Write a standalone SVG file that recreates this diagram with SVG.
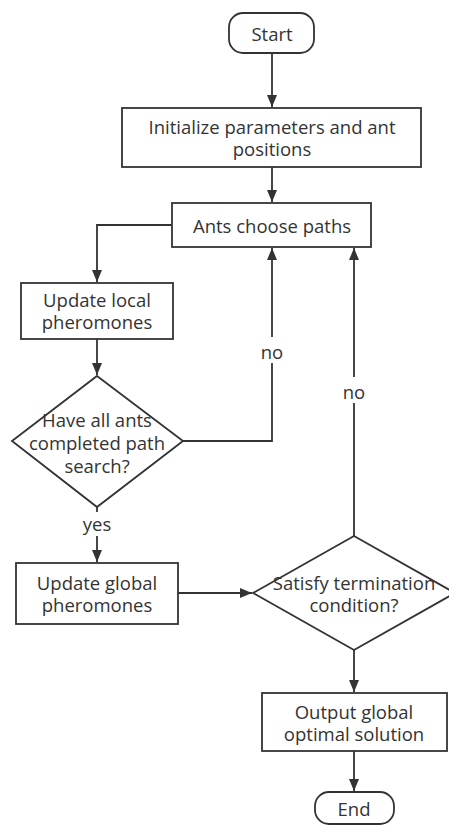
<svg xmlns="http://www.w3.org/2000/svg" width="449" height="825" viewBox="0 0 449 825">
<defs>
<marker id="arr" markerUnits="userSpaceOnUse" markerWidth="12" markerHeight="12" viewBox="0 0 12 12" refX="12" refY="6" orient="auto">
<path d="M0,1 L12,6 L0,11 Z" fill="#333"/>
</marker>
<style>
.n{fill:#fff;stroke:#333;stroke-width:1.8}
.t{font-family:"Open Sans","Noto Sans",sans-serif;font-size:18.5px;fill:#333;text-anchor:middle;dominant-baseline:central}
.c{fill:none;stroke:#333;stroke-width:1.8}
</style>
</defs>
<rect width="449" height="825" fill="#fff"/>
<g id="connectors">
<path class="c" d="M272,53 V107" marker-end="url(#arr)"/>
<path class="c" d="M272,167 V202" marker-end="url(#arr)"/>
<path class="c" d="M172,225 H97 V282" marker-end="url(#arr)"/>
<path class="c" d="M97,339 V375" marker-end="url(#arr)"/>
<path class="c" d="M183,441 H272 V363"/>
<path class="c" d="M272,337 V248" marker-end="url(#arr)"/>
<path class="c" d="M97,507 V512"/>
<path class="c" d="M97,536 V562" marker-end="url(#arr)"/>
<path class="c" d="M178,593 H252" marker-end="url(#arr)"/>
<path class="c" d="M354,536 V403"/>
<path class="c" d="M354,377 V248" marker-end="url(#arr)"/>
<path class="c" d="M354,650 V692" marker-end="url(#arr)"/>
<path class="c" d="M354,751 V791" marker-end="url(#arr)"/>
<text class="t" x="272" y="351">no</text>
<text class="t" x="354" y="391">no</text>
<text class="t" x="97" y="523">yes</text>
</g>
<g id="start">
<rect class="n" x="229" y="13" width="85" height="40" rx="14"/>
<text class="t" x="272" y="33">Start</text>
</g>
<g id="init">
<rect class="n" x="122" y="108" width="299" height="59"/>
<text class="t" x="272" y="126">Initialize parameters and ant</text>
<text class="t" x="272" y="148">positions</text>
</g>
<g id="choose">
<rect class="n" x="172" y="203" width="199" height="44"/>
<text class="t" x="272" y="225">Ants choose paths</text>
</g>
<g id="local">
<rect class="n" x="21" y="283" width="152" height="56"/>
<text class="t" x="97" y="299">Update local</text>
<text class="t" x="97" y="321">pheromones</text>
</g>
<g id="allants">
<polygon class="n" points="97,376 183,441 97,507 12,441"/>
<text class="t" x="97" y="419">Have all ants</text>
<text class="t" x="97" y="442">completed path</text>
<text class="t" x="97" y="465">search?</text>
</g>
<g id="global">
<rect class="n" x="16" y="563" width="162" height="61"/>
<text class="t" x="97" y="582">Update global</text>
<text class="t" x="97" y="604">pheromones</text>
</g>
<g id="terminate">
<polygon class="n" points="354,536 455,593 354,650 253,593"/>
<text class="t" x="354" y="582">Satisfy termination</text>
<text class="t" x="354" y="604">condition?</text>
</g>
<g id="output">
<rect class="n" x="262" y="693" width="185" height="58"/>
<text class="t" x="354" y="711">Output global</text>
<text class="t" x="354" y="733">optimal solution</text>
</g>
<g id="end">
<rect class="n" x="315" y="792" width="79" height="32" rx="14"/>
<text class="t" x="354" y="808">End</text>
</g>
</svg>
